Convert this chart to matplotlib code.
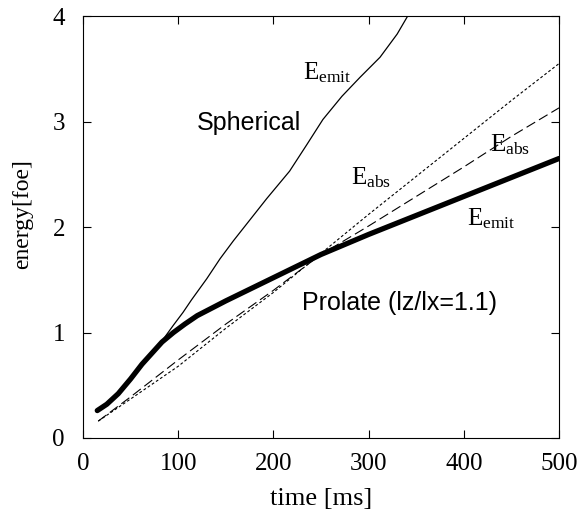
import matplotlib
matplotlib.use("Agg")
import matplotlib.pyplot as plt

# energy curves (time in ms, energy in foe)
sph_t = [15, 25, 37, 50, 62, 72, 83, 95, 105, 114, 130, 144, 158, 172, 193, 217, 235, 252, 272, 291, 312, 330, 341, 350]
sph_emit = [0.26, 0.32, 0.42, 0.56, 0.70, 0.80, 0.92, 1.07, 1.19, 1.31, 1.51, 1.70, 1.87, 2.03, 2.27, 2.53, 2.78, 3.02, 3.24, 3.42, 3.61, 3.83, 4.00, 4.10]

pro_t = [15, 25, 37, 50, 62, 72, 83, 95, 107, 120, 135, 150, 175, 200, 250, 300, 350, 400, 450, 500]
pro_emit = [0.26, 0.32, 0.42, 0.56, 0.70, 0.80, 0.91, 1.00, 1.08, 1.16, 1.23, 1.30, 1.41, 1.52, 1.74, 1.93, 2.11, 2.29, 2.47, 2.65]

abs_t = [16, 50, 100, 150, 200, 250, 300, 350, 400, 450, 500]
abs_long = [0.16, 0.39, 0.74, 1.08, 1.40, 1.74, 2.01, 2.29, 2.57, 2.86, 3.13]
abs_short = [0.16, 0.37, 0.68, 1.04, 1.38, 1.75, 2.12, 2.48, 2.84, 3.20, 3.55]

xticks = [0, 100, 200, 300, 400, 500]
yticks = [0, 1, 2, 3, 4]

plt.rcParams["font.family"] = ["Liberation Serif", "DejaVu Serif"]
plt.rcParams["mathtext.fontset"] = "custom"
plt.rcParams["mathtext.rm"] = "Liberation Serif"
plt.rcParams["mathtext.it"] = "Liberation Serif"

fig = plt.figure(figsize=(5.82, 5.2), dpi=100)
ax = fig.add_axes([0.1426, 0.1577, 0.8179, 0.8113])

ax.plot(sph_t, sph_emit, color="black", lw=0.9)
ax.plot(pro_t, pro_emit, color="black", lw=3.8, solid_capstyle="round")
ax.plot(abs_t, abs_long, color="black", lw=0.8, dashes=(9, 4))
ax.plot(abs_t, abs_short, color="black", lw=0.8, dashes=(2.5, 2))

ax.set_xlim(0, 500)
ax.set_ylim(0, 4)
ax.set_xticks(xticks)
ax.set_yticks(yticks)
ax.tick_params(direction="in", length=6, width=0.8, top=True, right=True,
               labelsize=18)
ax.tick_params(axis="x", pad=11)
ax.tick_params(axis="y", pad=13)
for s in ax.spines.values():
    s.set_linewidth(0.8)

ax.set_xlabel("time [ms]", fontsize=19, labelpad=9)
ax.set_ylabel("energy[foe]", fontsize=17, labelpad=4)
ax.yaxis.set_label_coords(-0.105, 0.53)

sans = ["Liberation Sans", "DejaVu Sans"]
ax.text(257, 3.46, r"$\mathrm{E_{emit}}$", fontsize=18, ha="center", va="center")
ax.text(120, 2.99, "Spherical", fontsize=18, family=sans, ha="left", va="center")
ax.text(303, 2.47, r"$\mathrm{E_{abs}}$", fontsize=18, ha="center", va="center")
ax.text(449, 2.78, r"$\mathrm{E_{abs}}$", fontsize=18, ha="center", va="center")
ax.text(429, 2.08, r"$\mathrm{E_{emit}}$", fontsize=18, ha="center", va="center")
ax.text(230, 1.28, "Prolate (lz/lx=1.1)", fontsize=18, family=sans, ha="left", va="center")

fig.savefig("out.png", dpi=100)
